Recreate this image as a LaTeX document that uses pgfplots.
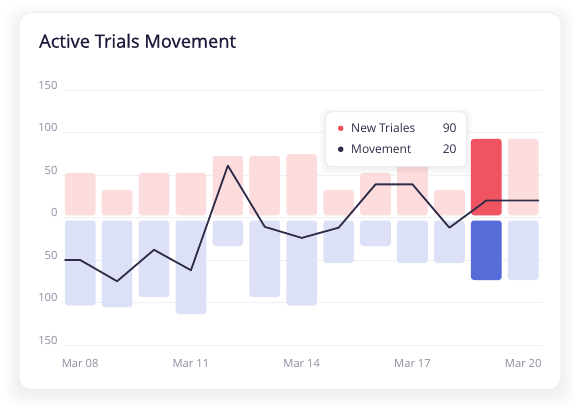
\documentclass[border=0pt]{standalone}
\usepackage{pgfplots}
\pgfplotsset{compat=1.18}
\usepackage{pgfplotstable}
\usepackage{fontspec}
\setmainfont{Open Sans}
\newfontfamily\titlefont{Open Sans}[FakeBold=1.0]

\definecolor{pinkbar}{HTML}{FCDCDD}
\definecolor{lavbar}{HTML}{DDE1F7}
\definecolor{redbar}{HTML}{EF5460}
\definecolor{bluebar}{HTML}{566CD9}
\definecolor{gridc}{HTML}{EFEFF6}
\definecolor{tickc}{HTML}{8E8CA0}
\definecolor{titlec}{HTML}{1E1B3A}
\definecolor{linec}{HTML}{2E2C48}
\definecolor{cardborder}{HTML}{EAEAF0}

% daily new trials (positive) and churned trials (negative)
\pgfplotstableread{
x pos neg
0 50 -100
1 30 -102
2 50 -90
3 50 -110
4 70 -30
5 70 -90
6 72 -100
7 30 -50
8 50 -30
9 70 -50
10 30 -50
11 90 -70
12 90 -70
}\bartable

% net movement line
\pgfplotstableread{
x move
-0.42 -50
0 -50
1 -75
2 -38
3 -62
4 61
5 -11
6 -24
7 -12
8 39
9 39
10 -12
11 20
12 20
12.42 20
}\movetable

\begin{document}
\begin{tikzpicture}[x=1pt,y=1pt]
\path[use as bounding box, fill=white] (-61.7,-70) rectangle (523.3,345);
% soft card shadow
\foreach \i in {1,...,14} {
  \fill[black, opacity=0.0045, rounded corners=14pt]
    (-42.7-\i,-44.3-\i-4) rectangle (499.3+\i,332.3+\i-6);
}
\fill[white, draw=cardborder, line width=0.6pt, rounded corners=12pt]
  (-42.7,-44.3) rectangle (499.3,332.3);
\node[anchor=base west, inner sep=0pt, text=titlec,
      font=\titlefont\fontsize{18.3}{21}\selectfont] at (-22.7,297.3) {Active Trials Movement};

\begin{axis}[
  at={(0,0)}, anchor=south west,
  scale only axis, width=480pt, height=255pt,
  xmin=-0.5, xmax=12.5, ymin=-150, ymax=150,
  axis line style={draw=none},
  tick style={draw=none},
  ymajorgrids, major grid style={color=gridc, line width=0.7pt},
  ytick={-150,-100,-50,0,50,100,150},
  yticklabels={150,100,50,0,50,100,150},
  xtick={0,3,6,9,12},
  xticklabels={Mar 08,Mar 11,Mar 14,Mar 17,Mar 20},
  /pgf/number format/assume math mode=true,
  yticklabel style={anchor=base east, inner sep=0pt, xshift=-4pt, yshift=1pt,
                    text=tickc, font=\fontsize{11.2}{13}\selectfont},
  xticklabel style={anchor=north, inner sep=0pt, yshift=-14pt,
                    text=tickc, font=\fontsize{11.2}{13}\selectfont},
  clip=false,
]
\addplot[ybar, bar width=30.7pt, bar shift=0pt, fill=pinkbar, draw=none,
         rounded corners=3pt, yshift=2.2pt] table[x=x, y=pos] {\bartable};
\addplot[ybar, bar width=30.7pt, bar shift=0pt, fill=lavbar, draw=none,
         rounded corners=3pt, yshift=-3pt] table[x=x, y=neg] {\bartable};
% highlighted day
\addplot[ybar, bar width=30.7pt, bar shift=0pt, fill=redbar, draw=none,
         rounded corners=3pt, yshift=2.2pt] coordinates {(11,90)};
\addplot[ybar, bar width=30.7pt, bar shift=0pt, fill=bluebar, draw=none,
         rounded corners=3pt, yshift=-3pt] coordinates {(11,-70)};
\addplot[linec, line width=1.8pt, line join=round, mark=none] table[x=x, y=move] {\movetable};
\end{axis}

% tooltip
\foreach \i in {1,...,6} {
  \fill[black, opacity=0.008, rounded corners=7pt]
    (264-\i,178.3-\i-2) rectangle (405+\i,233.3+\i-2);
}
\fill[white, draw=cardborder!80!gray!60, line width=0.7pt, rounded corners=6pt]
  (264,178.3) rectangle (405,233.3);
\fill[redbar] (279,216.7) circle (2.8);
\fill[linec] (279,195.7) circle (2.8);
\node[anchor=base west, inner sep=0pt, text=linec, font=\fontsize{12}{14}\selectfont] at (289.3,212.5) {New Triales};
\node[anchor=base west, inner sep=0pt, text=linec, font=\fontsize{12}{14}\selectfont] at (289.3,191.5) {Movement};
\node[anchor=base east, inner sep=0pt, text=linec, font=\fontsize{12}{14}\selectfont] at (395,212.5) {90};
\node[anchor=base east, inner sep=0pt, text=linec, font=\fontsize{12}{14}\selectfont] at (395,191.5) {20};
\end{tikzpicture}
\end{document}
